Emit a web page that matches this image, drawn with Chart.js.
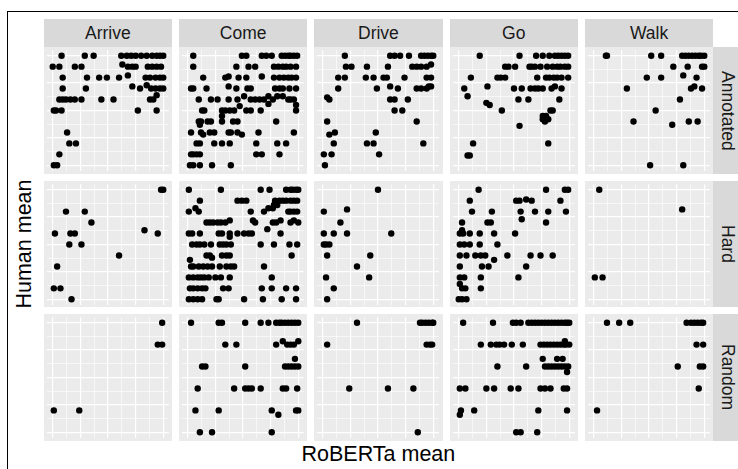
<!DOCTYPE html>
<html>
<head>
<meta charset="utf-8">
<script src="https://cdn.jsdelivr.net/npm/chart.js@4.4.0/dist/chart.umd.min.js"></script>
<style>
  html, body { margin: 0; padding: 0; background: #fff; }
  body { width: 738px; height: 469px; position: relative; overflow: hidden;
         font-family: "Liberation Sans", Arial, Helvetica, sans-serif; }
  .frame { position: absolute; left: 7px; top: 11px; width: 800px; height: 500px;
           border-left: 1px solid #000; border-top: 1px solid #000; }
  .panel { position: absolute; background: #EBEBEB; }
  .panel canvas { display: block; }
  .strip { position: absolute; background: #D9D9D9; color: #1A1A1A; font-size: 17.5px;
           display: flex; align-items: center; justify-content: center; }
  .strip.side span { writing-mode: vertical-rl; }
  .title { position: absolute; color: #000; font-size: 21.5px; line-height: 21.5px; white-space: nowrap; }
</style>
</head>
<body>
<div class="frame"></div>
<div id="fig"></div>
<div class="title" style="left:378.4px; top:444.4px; transform:translateX(-50%);">RoBERTa mean</div>
<div class="title" style="left:24.6px; top:244px; transform:translate(-50%,-50%) rotate(-90deg);">Human mean</div>
<script>
const verbs = ['Arrive', 'Come', 'Drive', 'Go', 'Walk'];
const conditions = ['Annotated', 'Hard', 'Random'];
const gridBreaks = [0, 0.125, 0.25, 0.375, 0.5, 0.625, 0.75, 0.875, 1];
const majorBreaks = [0, 0.25, 0.5, 0.75, 1];

// each row: [human mean, roberta mean, roberta mean, ...]
const arriveAnnotated = [
  [1.0, 0.08, 0.29, 0.37, 0.62, 0.67, 0.71, 0.75, 0.80, 0.85, 0.90, 0.94, 0.97, 1.0],
  [0.9, 0.0, 0.06, 0.20, 0.26, 0.68, 0.72, 0.75, 0.86, 0.90, 0.94, 0.98],
  [0.92, 0.63],
  [0.8, 0.09, 0.31, 0.42, 0.49, 0.60, 0.84, 0.88, 0.93, 0.97, 1.0],
  [0.82, 0.68],
  [0.7, 0.09, 0.30, 0.79, 0.89, 0.93, 0.97, 1.0],
  [0.72, 0.72],
  [0.73, 0.85],
  [0.6, 0.06, 0.09, 0.12, 0.16, 0.20, 0.26, 0.44, 0.55, 0.88, 0.91],
  [0.64, 0.94],
  [0.5, 0.01, 0.03, 0.08, 0.77, 0.94],
  [0.3, 0.13],
  [0.2, 0.15, 0.21],
  [0.1, 0.06],
  [0.0, 0.01, 0.04]
];
const comeAnnotated = [
  [1.0, 0.05, 0.49, 0.53, 0.67, 0.71, 0.76, 0.85, 0.88, 0.91, 0.93, 0.96, 0.99],
  [0.9, 0.05, 0.44, 0.55, 0.61, 0.78, 0.82, 0.86, 0.89, 0.93, 0.98],
  [0.8, 0.14, 0.34, 0.46, 0.53, 0.78, 0.83, 0.87, 0.91, 0.94, 0.98],
  [0.81, 0.37, 0.67],
  [0.7, 0.03, 0.05, 0.17, 0.44, 0.54, 0.57, 0.79, 0.83, 0.86, 0.92, 0.98],
  [0.72, 0.37],
  [0.6, 0.10, 0.21, 0.27, 0.37, 0.45, 0.57, 0.61, 0.65, 0.69, 0.77, 0.91, 0.93, 0.96],
  [0.63, 0.51, 0.73, 0.81, 0.86],
  [0.56, 0.73],
  [0.55, 0.98],
  [0.5, 0.13, 0.15, 0.31, 0.34, 0.38, 0.42, 0.53, 0.57, 0.66, 0.98],
  [0.54, 0.47],
  [0.45, 0.31],
  [0.4, 0.10, 0.12, 0.18, 0.21, 0.31, 0.41, 0.45, 0.80],
  [0.37, 0.11],
  [0.3, 0.03, 0.12, 0.20, 0.24, 0.37, 0.39, 0.45, 0.64, 0.96],
  [0.28, 0.14, 0.49],
  [0.2, 0.08, 0.11, 0.24, 0.31, 0.38, 0.62, 0.81, 0.89],
  [0.1, 0.03, 0.05, 0.08, 0.11, 0.62, 0.67, 0.83],
  [0.0, 0.02, 0.05, 0.11, 0.22, 0.39]
];
const driveAnnotated = [
  [1.0, 0.20, 0.61, 0.65, 0.70, 0.78, 0.89, 0.92, 0.95, 0.98, 1.0],
  [0.9, 0.21, 0.26, 0.40, 0.59, 0.81, 0.85, 0.89, 0.94],
  [0.92, 0.98],
  [0.8, 0.14, 0.20, 0.39, 0.46, 0.55, 0.58, 0.74, 0.94, 0.98],
  [0.7, 0.14, 0.49, 0.68, 0.85, 0.89, 0.94],
  [0.72, 0.61, 0.96, 0.98],
  [0.62, 0.04],
  [0.6, 0.06, 0.61, 0.65, 0.77],
  [0.5, 0.65, 0.72],
  [0.4, 0.04, 0.85],
  [0.3, 0.11, 0.48],
  [0.28, 0.06],
  [0.2, 0.10, 0.40, 0.46, 0.91],
  [0.1, 0.01, 0.08, 0.51],
  [0.0, 0.02]
];
const goAnnotated = [
  [1.0, 0.19, 0.55, 0.70, 0.76, 0.82, 0.87, 0.90, 0.93, 0.96, 0.99],
  [0.9, 0.42, 0.45, 0.51, 0.64, 0.66, 0.69, 0.74, 0.80, 0.85, 0.89, 0.92, 0.96, 0.99],
  [0.8, 0.11, 0.35, 0.38, 0.42, 0.71, 0.79, 0.82, 0.86, 0.89, 0.93, 0.99],
  [0.7, 0.05, 0.50, 0.57, 0.65, 0.69, 0.72, 0.76, 0.84, 0.93],
  [0.72, 0.26, 0.87],
  [0.63, 0.08],
  [0.6, 0.54, 0.63, 0.91],
  [0.57, 0.25],
  [0.55, 0.28],
  [0.5, 0.39, 0.83, 0.85],
  [0.45, 0.76, 0.79],
  [0.42, 0.76, 0.81],
  [0.4, 0.78],
  [0.36, 0.55],
  [0.2, 0.13, 0.81],
  [0.09, 0.08, 0.10]
];
const walkAnnotated = [
  [1.0, 0.11, 0.12, 0.52, 0.61, 0.80, 0.83, 0.86, 0.89, 0.92, 0.95, 0.97, 1.0],
  [0.9, 0.72, 0.85, 0.98, 1.0],
  [0.8, 0.48, 0.61, 0.93],
  [0.82, 0.81],
  [0.7, 0.30, 0.88, 0.98],
  [0.72, 0.91],
  [0.6, 0.78],
  [0.5, 0.56],
  [0.4, 0.36, 0.86, 0.94],
  [0.37, 0.71],
  [0.0, 0.51, 0.81]
];

const arriveHard = [
  [1.0, 0.98, 1.0],
  [0.8, 0.12, 0.29],
  [0.7, 0.35],
  [0.63, 0.83],
  [0.6, 0.02, 0.16, 0.20, 0.95],
  [0.5, 0.15, 0.26],
  [0.4, 0.60],
  [0.3, 0.04],
  [0.1, 0.01, 0.07],
  [0.0, 0.17]
];
const comeHard = [
  [1.0, 0.01, 0.30, 0.66, 0.74, 0.89, 0.93, 0.95, 0.98, 1.0],
  [0.9, 0.11, 0.45, 0.49, 0.53, 0.79, 0.83, 0.86, 0.89, 0.93, 0.96, 0.99],
  [0.86, 0.78, 0.81],
  [0.8, 0.01, 0.10, 0.57, 0.69, 0.91, 0.93, 0.96, 0.99],
  [0.83, 0.07, 0.73, 0.77],
  [0.7, 0.17, 0.20, 0.23, 0.27, 0.30, 0.34, 0.61, 0.77, 0.80, 0.93, 1.0],
  [0.72, 0.38, 0.59, 0.84, 0.96],
  [0.64, 0.72],
  [0.6, 0.01, 0.04, 0.11, 0.28, 0.31, 0.38, 0.45, 0.51, 0.55, 0.58, 0.84],
  [0.57, 0.38],
  [0.5, 0.04, 0.08, 0.11, 0.15, 0.21, 0.29, 0.32, 0.35, 0.39, 0.66, 0.78, 0.92, 0.99],
  [0.4, 0.17, 0.20, 0.31, 0.35, 0.38, 0.94],
  [0.38, 0.22],
  [0.36, 0.02],
  [0.3, 0.03, 0.05, 0.10, 0.14, 0.18, 0.22, 0.29, 0.35, 0.39, 0.42, 0.69],
  [0.2, 0.01, 0.05, 0.09, 0.12, 0.15, 0.19, 0.25, 0.30, 0.38, 0.76],
  [0.1, 0.02, 0.05, 0.09, 0.13, 0.16, 0.32, 0.37, 0.67, 0.76, 0.89, 0.98],
  [0.0, 0.01, 0.05, 0.09, 0.13, 0.26, 0.28, 0.51, 0.68, 0.85, 0.98]
];
const driveHard = [
  [1.0, 0.50],
  [0.8, 0.01],
  [0.82, 0.22],
  [0.7, 0.16],
  [0.6, 0.01, 0.10, 0.22, 0.62],
  [0.5, 0.01, 0.03, 0.06],
  [0.4, 0.04, 0.43],
  [0.3, 0.31],
  [0.2, 0.03, 0.42],
  [0.1, 0.10],
  [0.0, 0.04]
];
const goHard = [
  [1.0, 0.18, 0.79, 0.96, 0.99],
  [0.9, 0.10, 0.52, 0.55, 0.66, 0.92],
  [0.91, 0.61],
  [0.8, 0.12, 0.30, 0.56, 0.69, 0.81, 0.97],
  [0.73, 0.57],
  [0.7, 0.03, 0.26, 0.29, 0.79],
  [0.63, 0.03],
  [0.6, 0.01, 0.04, 0.10, 0.19, 0.32, 0.51],
  [0.5, 0.01, 0.05, 0.10, 0.19, 0.35],
  [0.4, 0.01, 0.07, 0.15, 0.20, 0.24, 0.44, 0.65, 0.74, 0.85],
  [0.36, 0.32],
  [0.3, 0.01, 0.21, 0.27, 0.61],
  [0.2, 0.01, 0.05, 0.20, 0.54],
  [0.14, 0.01],
  [0.1, 0.03, 0.06, 0.20],
  [0.0, 0.0, 0.03, 0.07]
];
const walkHard = [
  [1.0, 0.05],
  [0.82, 0.80],
  [0.2, 0.01, 0.08]
];

const arriveRandom = [
  [1.0, 0.99],
  [0.8, 0.95, 0.99],
  [0.2, 0.01, 0.24]
];
const comeRandom = [
  [1.0, 0.03, 0.28, 0.31, 0.52, 0.66, 0.73, 0.80, 0.83, 0.85, 0.88, 0.91, 0.94, 0.97, 1.0],
  [0.8, 0.34, 0.44, 0.80, 0.90, 0.93, 0.96],
  [0.83, 0.86, 1.0],
  [0.67, 0.97],
  [0.6, 0.13, 0.16, 0.52, 0.88, 0.91, 0.94, 0.97, 1.0],
  [0.4, 0.09, 0.42, 0.52, 0.55, 0.58, 0.66, 0.86, 0.89, 0.99],
  [0.2, 0.07, 0.28, 0.76, 0.98, 1.0],
  [0.16, 0.82],
  [0.0, 0.11, 0.22, 0.76]
];
const driveRandom = [
  [1.0, 0.31, 0.88, 0.90, 0.93, 0.96, 0.99, 1.0],
  [0.8, 0.04, 0.94, 0.97, 0.99],
  [0.4, 0.24, 0.59, 0.82],
  [0.0, 0.86]
];
const goRandom = [
  [1.0, 0.04, 0.31, 0.49, 0.52, 0.56, 0.63, 0.66, 0.69, 0.72, 0.75, 0.78, 0.81, 0.84, 0.87, 0.90, 0.93, 0.96, 0.98, 1.0],
  [0.8, 0.20, 0.29, 0.34, 0.37, 0.41, 0.48, 0.58, 0.74, 0.77, 0.80, 0.83, 0.86, 0.89, 0.92, 0.95, 0.97, 1.0],
  [0.83, 0.96],
  [0.67, 0.76, 0.89, 0.94],
  [0.6, 0.35, 0.61, 0.78, 0.81, 0.84, 0.87, 0.90, 0.93, 0.96, 0.99],
  [0.55, 0.98],
  [0.4, 0.01, 0.06, 0.25, 0.32, 0.47, 0.54, 0.74, 0.78, 0.83, 0.95, 0.98],
  [0.2, 0.02, 0.14, 0.72, 0.98],
  [0.16, 0.01],
  [0.0, 0.52, 0.56, 0.71]
];
const walkRandom = [
  [1.0, 0.12, 0.23, 0.33, 0.84, 0.88, 0.91, 0.94, 0.97, 0.99],
  [0.8, 0.93, 0.99],
  [0.6, 0.76, 0.96, 0.99],
  [0.4, 0.95],
  [0.2, 0.03]
];

const panelData = {
  Arrive: [arriveAnnotated, arriveHard, arriveRandom],
  Come:   [comeAnnotated, comeHard, comeRandom],
  Drive:  [driveAnnotated, driveHard, driveRandom],
  Go:     [goAnnotated, goHard, goRandom],
  Walk:   [walkAnnotated, walkHard, walkRandom]
};

function toPoints(rows) {
  const pts = [];
  rows.forEach(r => r.slice(1).forEach(x => pts.push({ x: x, y: r[0] })));
  return pts;
}

// layout in px
const left0 = 43.7, top0 = 47.3, panelW = 128.3, panelH = 126.5;
const stepX = 135.3, stepY = 133.4, stripSize = 28.3;
const fig = document.getElementById('fig');

function gridAxis() {
  return {
    type: 'linear',
    min: -0.05,
    max: 1.05,
    ticks: { display: false },
    border: { display: false },
    grid: {
      color: '#FFFFFF',
      drawTicks: false,
      lineWidth: c => (c.tick && majorBreaks.includes(c.tick.value)) ? 1.2 : 0.6
    },
    afterBuildTicks: s => { s.ticks = gridBreaks.map(v => ({ value: v })); }
  };
}

verbs.forEach((verb, c) => {
  const x = left0 + c * stepX;
  const strip = document.createElement('div');
  strip.className = 'strip';
  strip.style.cssText = `left:${x}px;top:${top0 - stripSize}px;width:${panelW}px;height:${stripSize}px;`;
  strip.textContent = verb;
  fig.appendChild(strip);

  conditions.forEach((cond, r) => {
    const y = top0 + r * stepY;
    const box = document.createElement('div');
    box.className = 'panel';
    box.style.cssText = `left:${x}px;top:${y}px;width:${panelW}px;height:${panelH}px;`;
    const cv = document.createElement('canvas');
    cv.width = Math.round(panelW);
    cv.height = Math.round(panelH);
    box.appendChild(cv);
    fig.appendChild(box);

    new Chart(cv, {
      type: 'scatter',
      data: {
        datasets: [{
          data: toPoints(panelData[verb][r]),
          pointRadius: 3.2,
          pointHoverRadius: 3.2,
          pointBackgroundColor: '#000000',
          pointBorderWidth: 0,
          showLine: false
        }]
      },
      options: {
        responsive: false,
        animation: false,
        layout: { padding: 0 },
        events: [],
        plugins: { legend: { display: false }, tooltip: { enabled: false } },
        scales: { x: gridAxis(), y: gridAxis() }
      }
    });
  });
});

conditions.forEach((cond, r) => {
  const side = document.createElement('div');
  side.className = 'strip side';
  side.style.cssText = `left:${left0 + 4 * stepX + panelW}px;top:${top0 + r * stepY}px;width:${stripSize}px;height:${panelH}px;`;
  const span = document.createElement('span');
  span.textContent = cond;
  side.appendChild(span);
  fig.appendChild(side);
});
</script>
</body>
</html>
